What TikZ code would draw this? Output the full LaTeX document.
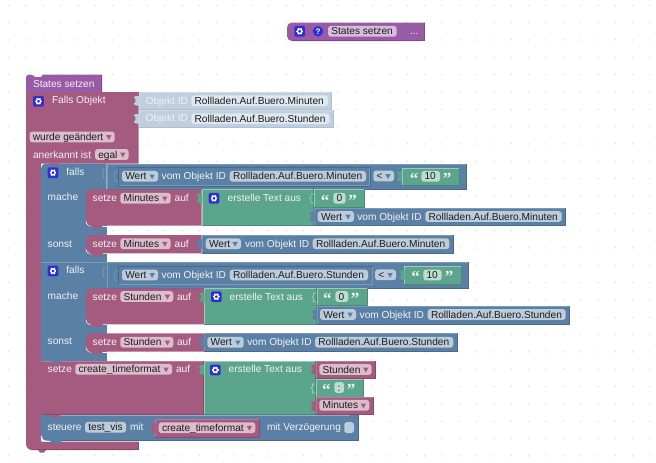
\documentclass[tikz,border=0pt]{standalone}
\usepackage{fontspec}
\setmainfont{Liberation Sans}
\newfontfamily\qfont{Liberation Serif}
\definecolor{cMag}{HTML}{A55B80}
\definecolor{cMagD}{HTML}{8A4A6A}
\definecolor{cMagL}{HTML}{B67C99}
\definecolor{cBlu}{HTML}{5B80A5}
\definecolor{cBluD}{HTML}{4A6A8A}
\definecolor{cBluL}{HTML}{7C99B6}
\definecolor{cGrn}{HTML}{5BA58C}
\definecolor{cGrnD}{HTML}{4A8A74}
\definecolor{cGrnL}{HTML}{9CCBBB}
\definecolor{cPur}{HTML}{995BA5}
\definecolor{cPurD}{HTML}{7F4A8A}
\definecolor{cPurL}{HTML}{B88BC0}
\definecolor{cIce}{HTML}{BFCFDF}
\definecolor{cIceD}{HTML}{AEBFD0}
\definecolor{cIceL}{HTML}{CFDBE7}
\definecolor{fMag}{HTML}{DBBDCC}
\definecolor{fBlu}{HTML}{BDCCDB}
\definecolor{fGrn}{HTML}{BDDBD1}
\definecolor{fPur}{HTML}{D6BDDB}
\definecolor{fIce}{HTML}{DFE7EF}
\definecolor{cIcon}{HTML}{2F2FD8}
\definecolor{cDot}{HTML}{D8D8D8}
\definecolor{cTxt}{HTML}{F2F2F2}
\definecolor{cDark}{HTML}{1E1E1E}
\newcount\nn
\newcommand{\nextn}{\global\advance\nn by 1 }
\tikzset{
  lab/.style={anchor=base west,inner sep=0pt,outer sep=0pt,font=\fontsize{10.15}{12}\selectfont},
  qm/.style={anchor=center,inner sep=0pt,outer sep=0pt,text=cTxt,font=\qfont\bfseries\fontsize{17}{17}\selectfont},
}
% block: x1 y1 x2 y2 colour
\newcommand{\bk}[5]{%
  \fill[#5] (#1,#2) rectangle (#3,#4);
  \draw[#5L,line width=.6] (#1+.3,#4) -- (#1+.3,#2+.3) -- (#3,#2+.3);
  \draw[#5D,line width=.6] (#3-.3,#2) -- (#3-.3,#4-.3) -- (#1,#4-.3);
}
% statement block with rounded left side and a bump
\newcommand{\stm}[5]{%
  \draw[white,line width=.9] (#1+.2,#4-5) .. controls (#1+.2,#4-1.5) and (#1+2,#4+.5) .. (#1+7,#4+.5);
  \draw[white,line width=.9] (#1+16,#4+.5) -- (#1+20.5,#4+.5);
  \fill[#5,rounded corners=5pt] (#3,#2) -- (#1,#2) -- (#1,#4) -- (#1+7,#4) [sharp corners] -- (#1+9,#4+2.6) -- (#1+15,#4+2.6) -- (#1+17,#4) -- (#3,#4) -- cycle;
}
% value tab on the left of a block: x ytop colour
\newcommand{\pz}[3]{%
  \fill[#3] (#1+.5,#2+3) -- (#1-2,#2+3) .. controls (#1-5.2,#2+3) and (#1-5,#2+6) .. (#1-3.2,#2+6) -- (#1-3.2,#2+9) .. controls (#1-5,#2+9) and (#1-5.2,#2+12.5) .. (#1-2,#2+12.5) -- (#1+.5,#2+12.5) -- cycle;
}
% empty input socket outline
\newcommand{\sock}[3]{%
  \draw[#3,line width=.6] (#1,#2+3) -- (#1-3,#2+3) -- (#1-3,#2+6) -- (#1-4.5,#2+7) -- (#1-3,#2+8.5) -- (#1-3,#2+12) -- (#1,#2+12);
}
% field: x1 x2 yc bg text
\newcommand{\fld}[5]{%
  \fill[#4,rounded corners=2.8pt] (#1,#3-5.4) rectangle (#2,#3+5.4);
  \nextn\node[lab,text=cDark] (t\the\nn) at (#1+3.3,#3+3.6) {#5};
}
% dropdown field: x1 x2 yc bg arrow text
\newcommand{\dd}[6]{%
  \fld{#1}{#2}{#3}{#4}{#6}
  \fill[#5] (#2-8.6,#3-1.8) -- (#2-3.2,#3-1.8) -- (#2-5.9,#3+3) -- cycle;
}
% white label: x yc text
\newcommand{\lb}[3]{\nextn\node[lab,text=cTxt] (t\the\nn) at (#1,#2+3.6) {#3};}
% quotes: xL xR yc
\newcommand{\qq}[3]{%
  \nextn\node[qm] (t\the\nn) at (#1,#3+2.5) {“};
  \nextn\node[qm] (t\the\nn) at (#2,#3+2.5) {”};
}
% gear icon: x y
\newcommand{\gear}[2]{%
  \fill[cIcon,rounded corners=2pt] (#1-5.4,#2-5.4) rectangle (#1+5.4,#2+5.4);
  \foreach \gang in {0,60,120,180,240,300}{\draw[white,line width=1.3] (#1,#2) ++(\gang:1.8) -- ++(\gang:1.6);}
  \draw[white,line width=1.3] (#1,#2) circle (2.2);
}
\begin{document}
\begin{tikzpicture}[x=1pt,y=-1pt]
\useasboundingbox (0,0) rectangle (656,463);
\fill[white] (0,0) rectangle (656,463);
\foreach \ix in {0,...,37}{\foreach \iy in {0,...,26}{
  \fill[cDot] ({8.67+17.33*\ix},{5.3+17.33*\iy}) circle (.75);
}}
% top caller block
\fill[cPur,rounded corners=5pt] (424.7,22.5) -- (287,22.5) -- (287,41) -- (424.7,41) [sharp corners] -- cycle;
\fill[cPur] (424.7,22.5) rectangle (415,41);
\draw[cPurD,line width=.6] (424.4,22.5) -- (424.4,40.7) -- (292,40.7);
\gear{299.7}{31.3}
\fill[cIcon] (318,31.3) circle (5.2);
\nextn\node[anchor=center,inner sep=0pt,text=white,font=\bfseries\fontsize{8}{8}\selectfont] (t\the\nn) at (318,31.3) {?};
\fld{328}{396.7}{31.3}{fPur}{States setzen}
\lb{410}{31.3}{...}
% trigger body
\fill[cMag,rounded corners=6pt] (26,92) -- (26,450) -- (138.5,450) [sharp corners] -- (138.5,441.7) -- (41,441.7) -- (41,163.5) -- (138.5,163.5) -- (138.5,92) -- cycle;
\fill[cMag] (26,92) rectangle (138.5,100);
\fill[cMag] (130,441.7) rectangle (138.5,450);
\fill[cMag] (38,450) -- (40,452.6) -- (44,452.6) -- (46,450) -- cycle;
\draw[cMagD,line width=.6] (138.2,441.7) -- (138.2,449.7) -- (32,449.7);
% function header
\fill[cPur,rounded corners=3pt] (26,92) -- (26,74.6) -- (33,74.6) [sharp corners] -- (35,77) -- (41,77) -- (43,74.6) -- (102,74.6) -- (102,92) -- cycle;
\draw[cPurD,line width=.6] (101.7,75) -- (101.7,92);
\lb{33}{83.5}{States setzen}
% trigger texts
\gear{38.5}{101.3}
\lb{52}{100.3}{Falls Objekt}
\bk{138.5}{92}{332}{110}{cIce}
\bk{138.5}{110}{333.7}{128}{cIce}
\pz{138.5}{93}{cIce}
\pz{138.5}{111}{cIce}
\lb{145.7}{100.5}{Objekt ID}
\fld{191.3}{328}{100.7}{fIce}{Rollladen.Auf.Buero.Minuten}
\lb{145.7}{118.3}{Objekt ID}
\fld{191.3}{329.5}{118.7}{fIce}{Rollladen.Auf.Buero.Stunden}
\dd{29.5}{114.7}{137}{fMag}{cMag}{wurde geändert}
\lb{33}{154.4}{anerkannt ist}
\dd{95}{128.7}{154.5}{fMag}{cMag}{egal}
% blue c-blocks
\fill[cBlu,rounded corners=5pt] (106.5,163.5) -- (41,163.5) -- (41,262.3) [sharp corners] -- (106.5,262.3) -- cycle;
\fill[cBlu] (41,200) rectangle (106.5,360.7);
\fill[cMag] (49,163.3) -- (51,165.2) -- (57,165.2) -- (59,163.3) -- cycle;
\bk{106.5}{163.5}{466.7}{189.5}{cBlu}
\bk{106.5}{262.3}{468.3}{288.3}{cBlu}
\draw[cBluL,line width=.6] (41,262.5) -- (106.5,262.5);
% first condition
\sock{106.5}{166}{cBluL}
\draw[cBluD,line width=.7] (118,167.5) rectangle (370,186);
\draw[cBluL,line width=.5] (118.6,185.4) -- (369.4,185.4) -- (369.4,168);
\sock{118}{169}{cBluL}
\gear{53}{172.7}
\lb{66.3}{172.3}{falls}
\lb{47.7}{197}{mache}
\lb{47.7}{243.4}{sonst}
\dd{122}{158}{176.3}{fBlu}{cBlu}{Wert}
\lb{161.7}{176.3}{vom Objekt ID}
\fld{229.7}{366}{176.3}{fBlu}{Rollladen.Auf.Buero.Minuten}
\dd{373.3}{394}{176}{fBlu}{cBlu}{<}
\bk{401.7}{167.5}{459.5}{186}{cGrn}
\pz{401.7}{168.5}{cGrn}
\qq{414}{447}{176}
\fld{421.3}{440}{176.3}{fGrn}{10}
% first "mache"
\stm{86}{189.4}{201.5}{225.7}{cMag}
\bk{201.5}{189.4}{314}{225.7}{cGrn}
\pz{201.5}{190.5}{cGrn}
\lb{92.7}{198.3}{setze}
\dd{120.3}{170.7}{198.3}{fMag}{cMag}{Minutes}
\lb{174.7}{198.3}{auf}
\gear{214}{198.3}
\lb{227.7}{198.3}{erstelle Text aus}
\bk{314}{189.4}{364.7}{207.5}{cGrn}
\sock{314}{191}{cGrnL}
\qq{325}{352.7}{198}
\fld{333.3}{345.7}{198.3}{fGrn}{0}
\bk{314}{207.5}{565.7}{225.7}{cBlu}
\pz{314}{208.5}{cBlu}
\dd{317.7}{354}{216.5}{fBlu}{cBlu}{Wert}
\lb{357.3}{216.5}{vom Objekt ID}
\fld{425.3}{561.7}{216.5}{fBlu}{Rollladen.Auf.Buero.Minuten}
% first "sonst"
\stm{86}{235}{201.5}{253.4}{cMag}
\bk{201.5}{235}{453.3}{253.4}{cBlu}
\pz{201.5}{236}{cBlu}
\lb{92.7}{243.5}{setze}
\dd{120.3}{170.7}{243.7}{fMag}{cMag}{Minutes}
\lb{174.7}{243.5}{auf}
\dd{205.7}{241}{243.7}{fBlu}{cBlu}{Wert}
\lb{245}{243.5}{vom Objekt ID}
\fld{312.7}{449.3}{243.7}{fBlu}{Rollladen.Auf.Buero.Minuten}
% second condition
\sock{106.5}{265}{cBluL}
\draw[cBluD,line width=.7] (118,266.3) rectangle (372.7,284.7);
\draw[cBluL,line width=.5] (118.6,284.1) -- (372.1,284.1) -- (372.1,267);
\sock{118}{268}{cBluL}
\gear{53}{271}
\lb{66.3}{270.2}{falls}
\lb{47.7}{295.4}{mache}
\lb{47.7}{341.3}{sonst}
\dd{122}{158}{275}{fBlu}{cBlu}{Wert}
\lb{161.7}{275}{vom Objekt ID}
\fld{229.7}{368}{275}{fBlu}{Rollladen.Auf.Buero.Stunden}
\dd{375}{396}{274.8}{fBlu}{cBlu}{<}
\bk{404}{266.3}{461.7}{284.7}{cGrn}
\pz{404}{267.3}{cGrn}
\qq{415.7}{449}{274.5}
\fld{423.3}{441.7}{275}{fGrn}{10}
% second "mache"
\stm{86}{288.3}{204}{324.3}{cMag}
\bk{204}{288.3}{316.5}{324.3}{cGrn}
\pz{204}{289.5}{cGrn}
\lb{92.7}{296.5}{setze}
\dd{120.3}{173.3}{296.5}{fMag}{cMag}{Stunden}
\lb{177}{296.5}{auf}
\gear{216.3}{296.7}
\lb{229.7}{296.5}{erstelle Text aus}
\bk{316.5}{288.3}{367.3}{306}{cGrn}
\sock{316.5}{290}{cGrnL}
\qq{327.3}{355}{296.3}
\fld{335.3}{348.3}{296.5}{fGrn}{0}
\bk{316.5}{306}{570}{324.3}{cBlu}
\pz{316.5}{307}{cBlu}
\dd{320}{356}{314.5}{fBlu}{cBlu}{Wert}
\lb{359.7}{314.5}{vom Objekt ID}
\fld{427.7}{565.7}{314.5}{fBlu}{Rollladen.Auf.Buero.Stunden}
% second "sonst"
\stm{86}{333.3}{204}{351.7}{cMag}
\bk{204}{333.3}{457.3}{351.7}{cBlu}
\pz{204}{334.3}{cBlu}
\lb{92.7}{342.3}{setze}
\dd{120.3}{173.3}{342.3}{fMag}{cMag}{Stunden}
\lb{177}{342.3}{auf}
\dd{207.3}{243.7}{342.3}{fBlu}{cBlu}{Wert}
\lb{247.3}{342.3}{vom Objekt ID}
\fld{315}{453.3}{342.3}{fBlu}{Rollladen.Auf.Buero.Stunden}
% setze create_timeformat
\bk{41}{360.7}{203.5}{415}{cMag}
\fill[cMag] (40.9,361.5) rectangle (41.8,415.3);
\fill[cBlu] (52,360.7) -- (54,363) -- (60,363) -- (62,360.7) -- cycle;
\bk{203.5}{360.7}{315.5}{415}{cGrn}
\pz{203.5}{362}{cGrn}
\lb{47.7}{369}{setze}
\dd{75.3}{172}{369.3}{fMag}{cMag}{create\_timeformat}
\lb{176}{369}{auf}
\gear{215.3}{370}
\lb{228.7}{369}{erstelle Text aus}
\bk{315.5}{360.7}{376}{379}{cMag}
\pz{315.5}{361.7}{cMag}
\dd{319.3}{371.7}{369.5}{fMag}{cMag}{Stunden}
\bk{315.5}{379}{363.3}{397.3}{cGrn}
\sock{315.5}{381}{cGrnL}
\qq{326.3}{351}{387}
\fld{334.3}{344}{387.5}{fGrn}{:}
\bk{315.5}{397.3}{373.7}{415}{cMag}
\pz{315.5}{398.3}{cMag}
\dd{319.3}{369.3}{405.3}{fMag}{cMag}{Minutes}
% steuere
\fill[cBlu,rounded corners=5pt] (358.3,415.3) -- (41,415.3) -- (41,440.9) -- (358.3,440.9) [sharp corners] -- cycle;
\fill[cBlu] (41,415.3) rectangle (50,425);
\fill[cBlu] (358.3,415.3) rectangle (350,440.9);
\draw[cBluD,line width=.6] (358,415.3) -- (358,440.6) -- (62,440.6);
\fill[cMag] (50,415) -- (52,417.3) -- (58,417.3) -- (60,415) -- cycle;
\fill[cBlu] (50,440.5) -- (52,443.4) -- (60,443.4) -- (62,440.5) -- cycle;
\draw[white,line width=.9] (41.2,436) .. controls (41.2,439) and (43,441.2) .. (47,441.2) -- (50,441.2);
\lb{47.7}{427.3}{steuere}
\fld{85}{126}{427.3}{fBlu}{test\_vis}
\lb{130}{427.3}{mit}
\bk{155}{419.3}{260}{437.3}{cMag}
\pz{155}{420.3}{cMag}
\dd{158.7}{255.3}{427.7}{fMag}{cMag}{create\_timeformat}
\lb{267}{427.3}{mit Verzögerung}
\fill[fBlu,rounded corners=2.5pt] (344.3,422.2) rectangle (354,433);
\end{tikzpicture}
\end{document}
